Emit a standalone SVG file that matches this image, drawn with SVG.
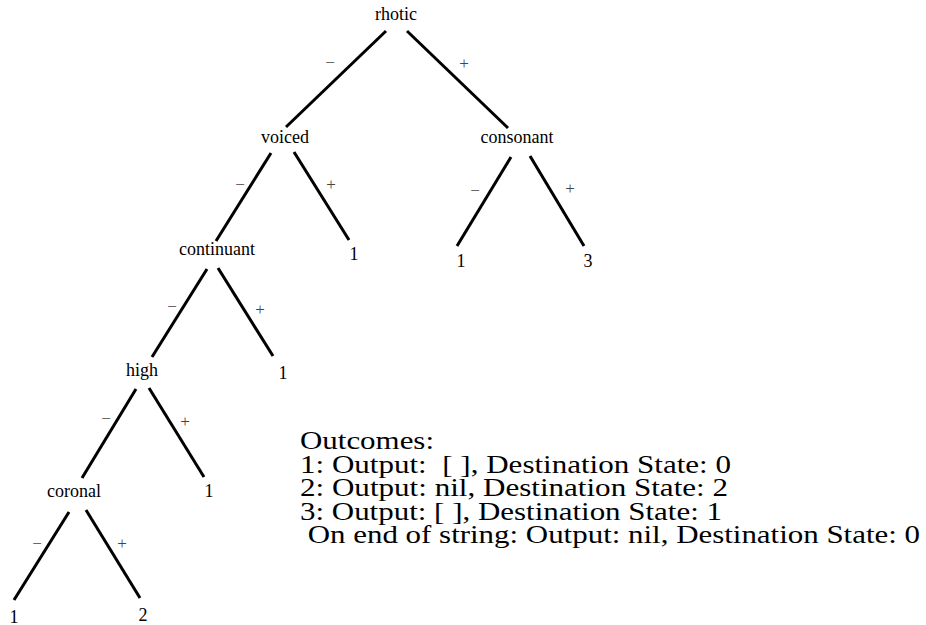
<svg xmlns="http://www.w3.org/2000/svg" width="926" height="625" viewBox="0 0 926 625">
<style>
text{font-family:"Liberation Serif","Times New Roman",serif;fill:#000}
.n{font-size:18px;text-anchor:middle}
.s{font-size:17px;text-anchor:middle;fill:#444}
.o{font-size:26px}
#edges line{stroke:#000;stroke-width:3;stroke-linecap:butt}
</style>
<rect width="926" height="625" fill="#fff"/>
<g id="edges">
<line x1="386" y1="31" x2="286" y2="127"/>
<line x1="407" y1="31" x2="508" y2="128"/>
<line x1="271" y1="153" x2="216" y2="241"/>
<line x1="294" y1="152" x2="349" y2="240"/>
<line x1="511" y1="157" x2="457" y2="246"/>
<line x1="530" y1="156" x2="584" y2="246"/>
<line x1="207" y1="269" x2="152" y2="357"/>
<line x1="218" y1="268" x2="273" y2="356"/>
<line x1="136" y1="389" x2="82" y2="478"/>
<line x1="149" y1="388" x2="204" y2="477"/>
<line x1="69" y1="512" x2="14" y2="600"/>
<line x1="86" y1="510" x2="140" y2="598"/>
</g>
<g id="signs">
<text class="s" x="330" y="68">−</text><text class="s" x="464" y="69">+</text>
<text class="s" x="240" y="190">−</text><text class="s" x="331" y="190">+</text>
<text class="s" x="475" y="196">−</text><text class="s" x="570" y="194">+</text>
<text class="s" x="172" y="312">−</text><text class="s" x="260" y="315">+</text>
<text class="s" x="106" y="424">−</text><text class="s" x="185" y="427">+</text>
<text class="s" x="37" y="549">−</text><text class="s" x="122" y="549">+</text>
</g>
<g id="n-rhotic"><text class="n" x="396" y="20">rhotic</text></g>
<g id="n-voiced"><text class="n" x="285" y="143">voiced</text></g>
<g id="n-consonant"><text class="n" x="517" y="143">consonant</text></g>
<g id="n-continuant"><text class="n" x="217" y="255">continuant</text></g>
<g id="n-voiced-plus"><text class="n" x="354" y="260">1</text></g>
<g id="n-consonant-minus"><text class="n" x="461" y="267">1</text></g>
<g id="n-consonant-plus"><text class="n" x="588" y="267">3</text></g>
<g id="n-high"><text class="n" x="142" y="376">high</text></g>
<g id="n-continuant-plus"><text class="n" x="283" y="379">1</text></g>
<g id="n-coronal"><text class="n" x="74" y="497">coronal</text></g>
<g id="n-high-plus"><text class="n" x="209" y="497">1</text></g>
<g id="n-coronal-minus"><text class="n" x="14" y="623">1</text></g>
<g id="n-coronal-plus"><text class="n" x="143" y="621">2</text></g>
<g id="outcomes">
<text class="o" x="300" y="449" textLength="134" lengthAdjust="spacingAndGlyphs">Outcomes:</text>
<text class="o" x="300" y="473" textLength="431" lengthAdjust="spacingAndGlyphs" xml:space="preserve">1: Output:  [ ], Destination State: 0</text>
<text class="o" x="300" y="496" textLength="428" lengthAdjust="spacingAndGlyphs">2: Output: nil, Destination State: 2</text>
<text class="o" x="300" y="520" textLength="422" lengthAdjust="spacingAndGlyphs">3: Output: [ ], Destination State: 1</text>
<text class="o" x="300" y="543" textLength="620" lengthAdjust="spacingAndGlyphs" xml:space="preserve"> On end of string: Output: nil, Destination State: 0</text>
</g>
</svg>
